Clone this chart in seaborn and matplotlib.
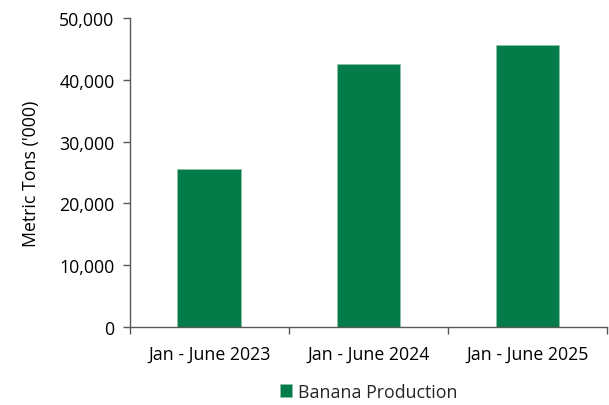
import matplotlib
matplotlib.use("Agg")
import matplotlib.pyplot as plt
import seaborn as sns
import pandas as pd
from matplotlib.ticker import FuncFormatter, FixedLocator

# Banana production, first half of each year (metric tons, thousands)
periods = ["Jan - June 2023", "Jan - June 2024", "Jan - June 2025"]
production = [25500, 42500, 45700]
series_name = "Banana Production"

sns.set_theme(style="white")
plt.rcParams["font.family"] = ["Open Sans", "DejaVu Sans"]

df = pd.DataFrame({"period": periods, "value": production, "series": series_name})

fig, ax = plt.subplots(figsize=(6.09, 4.06), dpi=100)
fig.subplots_adjust(left=0.213, right=0.997, top=0.953, bottom=0.192)

green = "#037C4A"
sns.barplot(data=df, x="period", y="value", hue="series", palette=[green],
            width=0.4, ax=ax, legend=True, saturation=1, edgecolor="#8CC4A8",
            linewidth=0.5)

ax.set_ylim(0, 50000)
ax.set_xlim(-0.5, 2.5)
ax.yaxis.set_major_locator(FixedLocator([0, 10000, 20000, 30000, 40000, 50000]))
ax.yaxis.set_major_formatter(FuncFormatter(lambda v, _: f"{int(v):,}"))

fs = 12.8

# Category labels centred under bars, tick marks at category boundaries
ax.set_xticks([-0.5, 0.5, 1.5, 2.5])
ax.set_xticklabels([])
ax.set_xticks(range(len(periods)), minor=True)
ax.set_xticklabels(periods, minor=True)
ax.tick_params(axis="x", which="major", direction="out", length=5, width=1,
               color="#595959", bottom=True)
ax.tick_params(axis="x", which="minor", length=0, labelsize=fs, pad=13,
               colors="#000000")
ax.tick_params(axis="y", direction="out", length=5, width=1, color="#595959",
               left=True, labelsize=fs, pad=6, labelcolor="#000000")

ax.set_xlabel("")
ax.set_ylabel("Metric Tons ('000)", fontsize=fs, labelpad=14, color="#000000")

for side in ["top", "right"]:
    ax.spines[side].set_visible(False)
for side in ["left", "bottom"]:
    ax.spines[side].set_color("#595959")
    ax.spines[side].set_linewidth(1)

leg = ax.legend(loc="lower center", bbox_to_anchor=(0.5, -0.25), frameon=False,
                fontsize=fs, handlelength=0.7, handleheight=0.7,
                handletextpad=0.3, borderaxespad=0, borderpad=0.2)

fig.savefig("out.png", dpi=100, facecolor="white")
